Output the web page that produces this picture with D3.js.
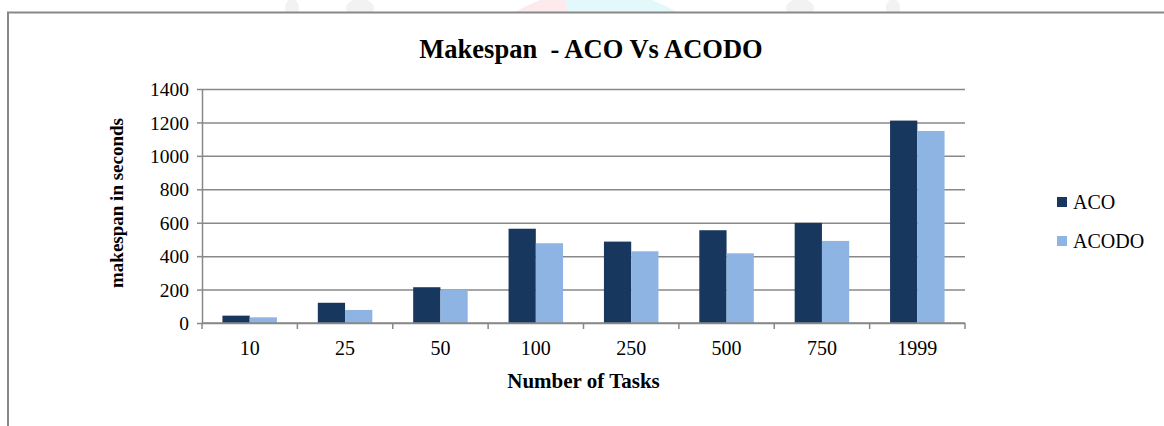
<!DOCTYPE html>
<html>
<head>
<meta charset="utf-8">
<script src="https://cdn.jsdelivr.net/npm/d3@7"></script>
<style>
  html, body { margin: 0; padding: 0; background: #fff; }
  svg { display: block; }
  text { font-family: "Liberation Serif", "Times New Roman", serif; fill: #000; }
</style>
</head>
<body>
<svg id="chart" width="1164" height="426"></svg>
<script>
// Data
const categories = ["10", "25", "50", "100", "250", "500", "750", "1999"];
const seriesNames = ["ACO", "ACODO"];
const acoValues = [44, 121, 214, 564, 487, 555, 599, 1211];
const acododoValues = [34, 78, 197, 477, 429, 417, 491, 1149];
const yTicks = [0, 200, 400, 600, 800, 1000, 1200, 1400];
const seriesColors = ["#17375E", "#8DB4E2"];

const rows = categories.map((c, i) => ({ cat: c, values: [acoValues[i], acododoValues[i]] }));

const W = 1164, H = 426;
const plot = { left: 202, right: 965, top: 89, bottom: 323 };
const serif = "'Liberation Serif', 'Times New Roman', serif";

const svg = d3.select("#chart");
svg.append("rect").attr("width", W).attr("height", H).attr("fill", "#fff");

// faint page emblem peeking above the chart frame
const emb = svg.append("g").attr("opacity", 0.14);
emb.append("clipPath").attr("id", "topStrip")
  .append("rect").attr("x", 0).attr("y", 0).attr("width", W).attr("height", 12);
const embG = emb.append("g").attr("clip-path", "url(#topStrip)");
const arcColors = [
  { a0: -1.75, a1: -0.95, c: "#f4a460" },
  { a0: -0.95, a1: -0.2, c: "#f07080" },
  { a0: -0.2, a1: 0.55, c: "#40d0e0" },
  { a0: 0.55, a1: 1.3, c: "#6070d0" }
];
const arcGen = d3.arc().innerRadius(0).outerRadius(160);
arcColors.forEach(s => {
  embG.append("path")
    .attr("transform", "translate(596,150)")
    .attr("d", arcGen({ startAngle: s.a0, endAngle: s.a1 }))
    .attr("fill", s.c);
});
[[292, 14], [360, 28], [800, 28], [893, 14]].forEach(([cx, w]) => {
  embG.append("ellipse").attr("cx", cx).attr("cy", 8).attr("rx", w / 2).attr("ry", 9)
    .attr("fill", "#aaa");
});

// chart frame (top and left edges visible)
svg.append("path")
  .attr("d", `M8,426 V12.5 H${W}`)
  .attr("fill", "none").attr("stroke", "#888").attr("stroke-width", 2);

// Scales
const x0 = d3.scaleBand().domain(categories).range([plot.left, plot.right]).paddingInner(0).paddingOuter(0);
const barW = x0.bandwidth() / 3.5;               // 150% gap width
const x1 = d3.scaleBand().domain(seriesNames).range([0, 2 * barW]);
const y = d3.scaleLinear().domain([0, 1400]).range([plot.bottom, plot.top]);

// Gridlines
const gridColor = "#888";
svg.append("g")
  .attr("transform", `translate(${plot.left},0)`)
  .call(d3.axisLeft(y).tickValues(yTicks).tickSize(-(plot.right - plot.left)).tickSizeOuter(0).tickFormat(""))
  .call(g => g.select(".domain").remove())
  .call(g => g.selectAll(".tick line").attr("stroke", gridColor).attr("stroke-width", 1.5));

// Y axis with outside tick marks
svg.append("g")
  .attr("transform", `translate(${plot.left},0)`)
  .call(d3.axisLeft(y).tickValues(yTicks).tickSize(5).tickSizeOuter(0).tickPadding(8).tickFormat(d3.format("d")))
  .attr("font-family", serif)
  .attr("font-size", 19.5)
  .call(g => g.select(".domain").attr("stroke", gridColor).attr("stroke-width", 1.5))
  .call(g => g.selectAll(".tick line").attr("stroke", gridColor).attr("stroke-width", 1.5))
  .call(g => g.selectAll(".tick text").attr("fill", "#000").attr("dy", "0.34em"));

// Bars
const groups = svg.append("g").selectAll("g").data(rows).join("g")
  .attr("transform", d => `translate(${x0(d.cat) + (x0.bandwidth() - 2 * barW) / 2},0)`);
groups.selectAll("rect")
  .data(d => d.values.map((v, i) => ({ name: seriesNames[i], v, i })))
  .join("rect")
  .attr("x", d => x1(d.name))
  .attr("width", barW)
  .attr("y", d => y(d.v))
  .attr("height", d => y(0) - y(d.v))
  .attr("fill", d => seriesColors[d.i]);

// X axis with boundary tick marks
const xAxisG = svg.append("g").attr("transform", `translate(0,${plot.bottom})`);
xAxisG.append("line")
  .attr("x1", plot.left).attr("x2", plot.right)
  .attr("stroke", gridColor).attr("stroke-width", 1.5);
const boundaries = categories.map(c => x0(c)).concat([plot.right]);
xAxisG.selectAll("line.b").data(boundaries).join("line").attr("class", "b")
  .attr("x1", d => d).attr("x2", d => d).attr("y1", 0).attr("y2", 6)
  .attr("stroke", gridColor).attr("stroke-width", 1.5);
xAxisG.selectAll("text.cat").data(categories).join("text").attr("class", "cat")
  .attr("x", d => x0(d) + x0.bandwidth() / 2)
  .attr("y", 32)
  .attr("text-anchor", "middle")
  .style("font-size", "20px")
  .text(d => d);

// Titles
svg.append("text")
  .attr("x", 591).attr("y", 58)
  .attr("text-anchor", "middle")
  .attr("xml:space", "preserve")
  .style("font-size", "26.5px").style("font-weight", "bold")
  .text("Makespan  - ACO Vs ACODO");

svg.append("text")
  .attr("x", (plot.left + plot.right) / 2).attr("y", 388)
  .attr("text-anchor", "middle")
  .style("font-size", "21px").style("font-weight", "bold")
  .text("Number of Tasks");

svg.append("text")
  .attr("transform", `translate(123,${(plot.top + plot.bottom) / 2 - 3}) rotate(-90)`)
  .attr("text-anchor", "middle")
  .style("font-size", "19px").style("font-weight", "bold")
  .text("makespan in seconds");

// Legend
const legend = svg.append("g");
const legendY = [202, 241];
seriesNames.forEach((name, i) => {
  legend.append("rect")
    .attr("x", 1057).attr("y", legendY[i] - 5)
    .attr("width", 10).attr("height", 10)
    .attr("fill", seriesColors[i]);
  legend.append("text")
    .attr("x", 1073).attr("y", legendY[i] + 7)
    .style("font-size", "20px")
    .text(name);
});
</script>
</body>
</html>
